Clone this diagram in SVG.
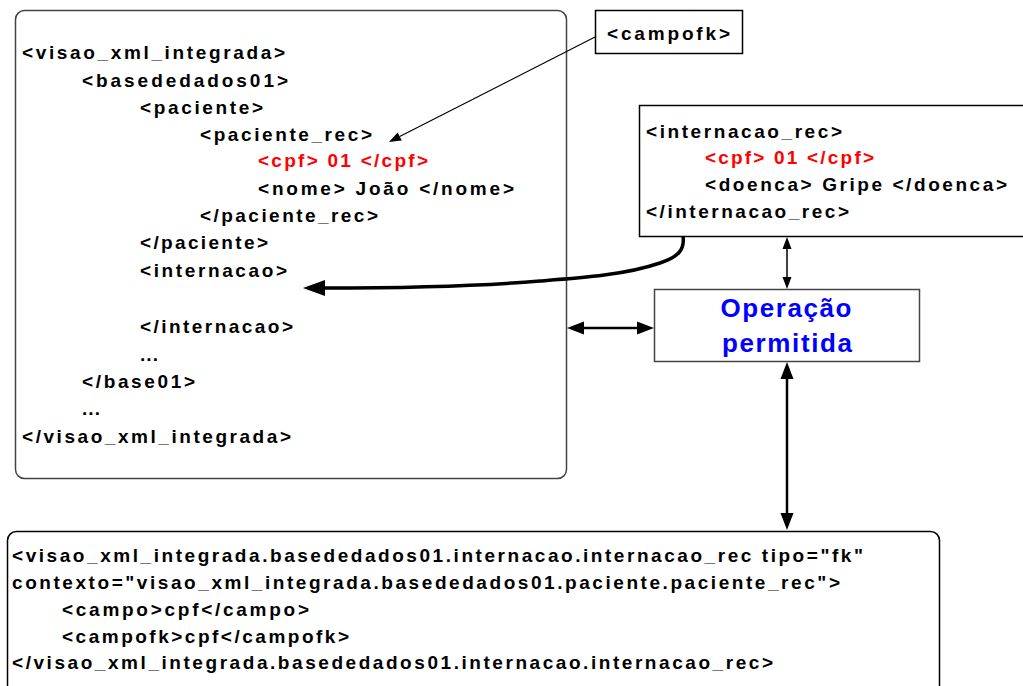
<svg xmlns="http://www.w3.org/2000/svg" width="1023" height="686" viewBox="0 0 1023 686">
  <style>
    .box { fill: #ffffff; stroke: #000000; stroke-width: 1.5; }
    .soft { stroke: #444444; }
    .code { font-family: "Liberation Sans", Arial, sans-serif; font-size: 19px; font-weight: bold; fill: #000000; }
    .key { fill: #ff0000; }
    .op { font-family: "Liberation Sans", Arial, sans-serif; font-size: 26px; font-weight: bold; fill: #0000ff; text-anchor: middle; }
    .wire { fill: none; stroke: #000000; }
  </style>
  <defs>
    <marker id="head-s" markerUnits="userSpaceOnUse" markerWidth="13" markerHeight="9" refX="0" refY="4.5" orient="auto-start-reverse" overflow="visible">
      <path d="M0,0 L12,4.5 L0,9 Z" fill="#000000"/>
    </marker>
    <marker id="head-m" markerUnits="userSpaceOnUse" markerWidth="13" markerHeight="9" refX="0" refY="4.5" orient="auto-start-reverse" overflow="visible">
      <path d="M0,0 L12,4.5 L0,9 Z" fill="#000000"/>
    </marker>
    <marker id="head-l" markerUnits="userSpaceOnUse" markerWidth="18" markerHeight="13" refX="0" refY="6.5" orient="auto-start-reverse" overflow="visible">
      <path d="M0,0 L17,6.5 L0,13 Z" fill="#000000"/>
    </marker>
    <marker id="head-xl" markerUnits="userSpaceOnUse" markerWidth="23" markerHeight="16" refX="0" refY="8" orient="auto" overflow="visible">
      <path d="M0,0 L22,8 L0,16 Z" fill="#000000"/>
    </marker>
  </defs>

  <!-- integrated XML view -->
  <g id="visao-integrada">
    <rect class="box soft" x="15.5" y="10.5" width="551" height="468" rx="9"/>
    <text class="code" x="22" y="59" textLength="263" lengthAdjust="spacing">&lt;visao_xml_integrada&gt;</text>
    <text class="code" x="82" y="87" textLength="206" lengthAdjust="spacing">&lt;basededados01&gt;</text>
    <text class="code" x="140" y="114" textLength="123" lengthAdjust="spacing">&lt;paciente&gt;</text>
    <text class="code" x="200" y="141" textLength="172" lengthAdjust="spacing">&lt;paciente_rec&gt;</text>
    <text class="code key" x="258" y="167" textLength="170" lengthAdjust="spacing">&lt;cpf&gt; 01 &lt;/cpf&gt;</text>
    <text class="code" x="258" y="195" textLength="256" lengthAdjust="spacing">&lt;nome&gt; João &lt;/nome&gt;</text>
    <text class="code" x="200" y="222" textLength="178" lengthAdjust="spacing">&lt;/paciente_rec&gt;</text>
    <text class="code" x="140" y="249" textLength="128" lengthAdjust="spacing">&lt;/paciente&gt;</text>
    <text class="code" x="140" y="277" textLength="147" lengthAdjust="spacing">&lt;internacao&gt;</text>
    <text class="code" x="140" y="333" textLength="153" lengthAdjust="spacing">&lt;/internacao&gt;</text>
    <text class="code" x="140" y="361" textLength="18" lengthAdjust="spacing">...</text>
    <text class="code" x="82" y="388" textLength="113" lengthAdjust="spacing">&lt;/base01&gt;</text>
    <text class="code" x="82" y="415" textLength="18" lengthAdjust="spacing">...</text>
    <text class="code" x="22" y="443" textLength="269" lengthAdjust="spacing">&lt;/visao_xml_integrada&gt;</text>
  </g>

  <!-- foreign key field label -->
  <g id="campofk">
    <rect class="box" x="595.5" y="10.5" width="147" height="43"/>
    <text class="code" x="607" y="40" textLength="123" lengthAdjust="spacing">&lt;campofk&gt;</text>
  </g>

  <!-- hospitalisation record -->
  <g id="internacao-rec">
    <rect class="box" x="639.5" y="105.5" width="400" height="131"/>
    <text class="code" x="646" y="138" textLength="196" lengthAdjust="spacing">&lt;internacao_rec&gt;</text>
    <text class="code key" x="705" y="164" textLength="169" lengthAdjust="spacing">&lt;cpf&gt; 01 &lt;/cpf&gt;</text>
    <text class="code" x="705" y="191" textLength="302" lengthAdjust="spacing">&lt;doenca&gt; Gripe &lt;/doenca&gt;</text>
    <text class="code" x="646" y="218" textLength="203" lengthAdjust="spacing">&lt;/internacao_rec&gt;</text>
  </g>

  <!-- allowed operation -->
  <g id="operacao">
    <rect class="box soft" x="654.5" y="289.5" width="265" height="72"/>
    <text class="op" x="786" y="317" textLength="131" lengthAdjust="spacing">Operação</text>
    <text class="op" x="787" y="352" textLength="130" lengthAdjust="spacing">permitida</text>
  </g>

  <!-- foreign key declaration -->
  <g id="declaracao-fk">
    <rect class="box" x="7.5" y="531.5" width="932" height="200" rx="9"/>
    <text class="code" x="12" y="562" textLength="851" lengthAdjust="spacing">&lt;visao_xml_integrada.basededados01.internacao.internacao_rec tipo="fk"</text>
    <text class="code" x="12" y="589" textLength="828" lengthAdjust="spacing">contexto="visao_xml_integrada.basededados01.paciente.paciente_rec"&gt;</text>
    <text class="code" x="62" y="616" textLength="247" lengthAdjust="spacing">&lt;campo&gt;cpf&lt;/campo&gt;</text>
    <text class="code" x="62" y="643" textLength="287" lengthAdjust="spacing">&lt;campofk&gt;cpf&lt;/campofk&gt;</text>
    <text class="code" x="12" y="669" textLength="761" lengthAdjust="spacing">&lt;/visao_xml_integrada.basededados01.internacao.internacao_rec&gt;</text>
  </g>

  <!-- connectors -->
  <g id="connectors">
    <path class="wire" stroke-width="1.2" d="M595,37 L399.7,136.5" marker-end="url(#head-s)"/>
    <path class="wire" stroke-width="3.5" d="M683,236 C685,250 678,257 660,263 C625,275 580,278 540,281 C480,286 420,288 325,288" marker-end="url(#head-xl)"/>
    <path class="wire" stroke-width="1.5" d="M787,249 L787,277" marker-start="url(#head-m)" marker-end="url(#head-m)"/>
    <path class="wire" stroke-width="2.5" d="M584,328 L637,328" marker-start="url(#head-l)" marker-end="url(#head-l)"/>
    <path class="wire" stroke-width="2.5" d="M787,379 L787,513" marker-start="url(#head-l)" marker-end="url(#head-l)"/>
  </g>
</svg>
